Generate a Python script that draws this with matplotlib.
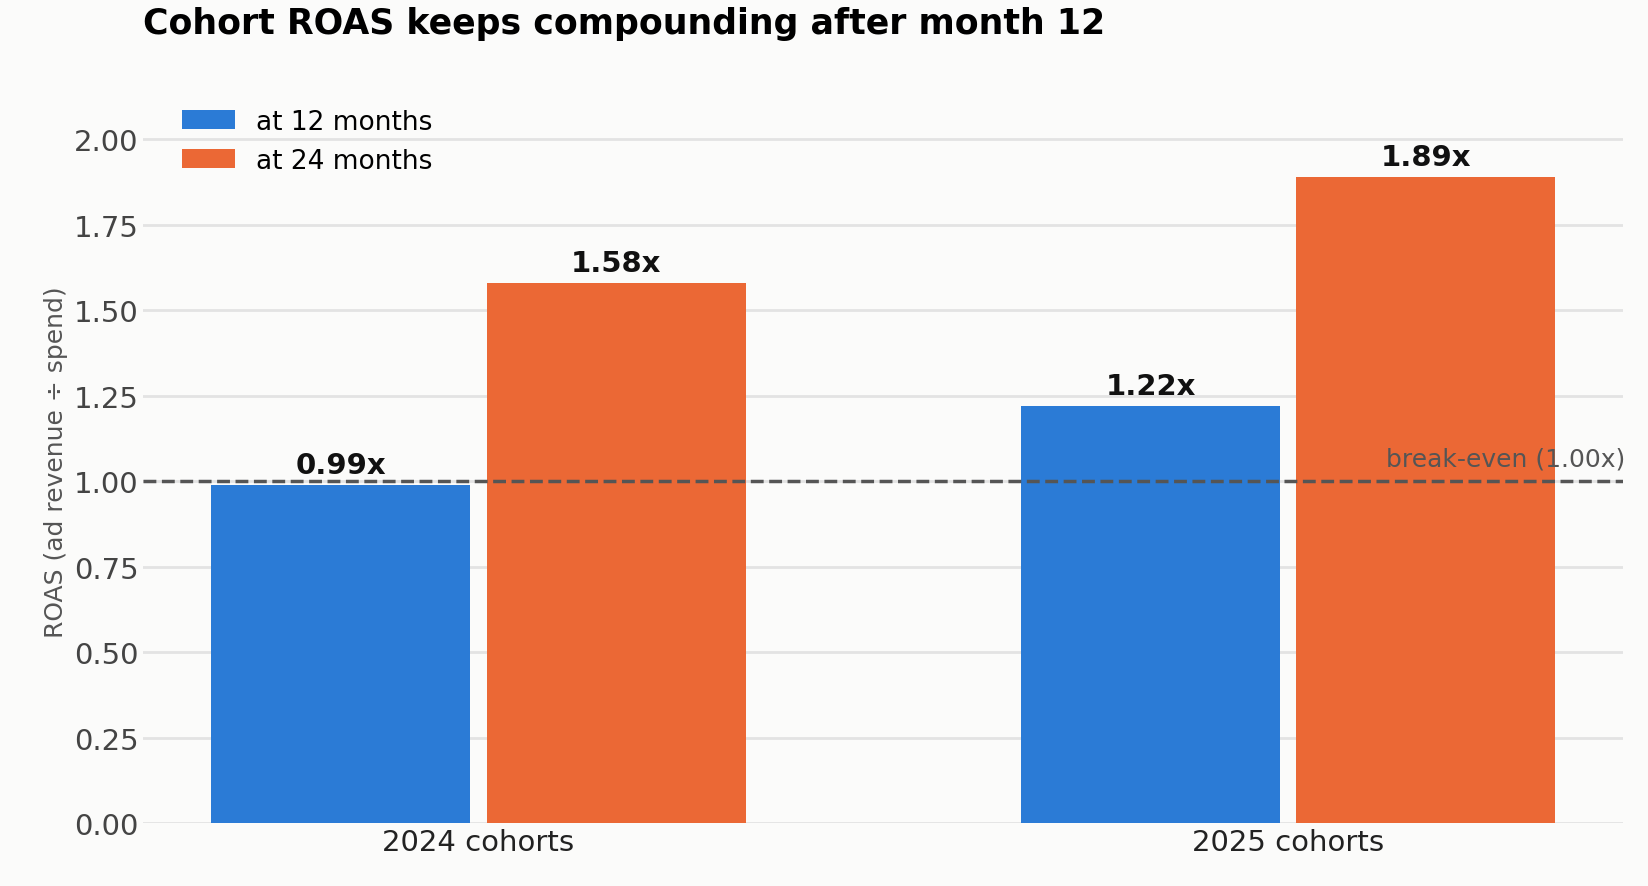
import matplotlib.pyplot as plt
import numpy as np

cohorts = ['2024 cohorts', '2025 cohorts']
roas_12 = [0.99, 1.22]
roas_24 = [1.58, 1.89]
breakeven = 1.00

bg = '#fbfbfa'
fig, ax = plt.subplots(figsize=(16.48, 8.87), dpi=100)
fig.patch.set_facecolor(bg)
ax.set_facecolor(bg)
fig.subplots_adjust(left=0.087, right=0.985, top=0.887, bottom=0.071)

x = np.arange(len(cohorts))
w = 0.32
b1 = ax.bar(x - 0.17, roas_12, w, color='#2b7bd6', label='at 12 months', zorder=3)
b2 = ax.bar(x + 0.17, roas_24, w, color='#eb6835', label='at 24 months', zorder=3)

for bars in (b1, b2):
    ax.bar_label(bars, labels=[f'{v:.2f}x' for v in bars.datavalues], padding=4,
                 fontsize=21, fontweight='bold', color='#111111')

ax.axhline(breakeven, color='#555555', linestyle='--', linewidth=2.5, zorder=4)
ax.text(1.416, breakeven + 0.03, 'break-even (1.00x)', ha='right', va='bottom',
        fontsize=18, color='#555555', zorder=5)

ax.set_xlim(-0.414, 1.414)
ax.set_ylim(0, 2.117)
ticks = np.arange(0, 2.01, 0.25)
ax.set_yticks(ticks)
ax.set_yticklabels([f'{t:.2f}' for t in ticks])
ax.set_xticks(x, labels=cohorts)
ax.tick_params(axis='both', length=0, labelsize=21)
ax.tick_params(axis='y', labelcolor='#444444')
ax.tick_params(axis='x', labelcolor='#222222')
ax.grid(axis='y', color='#e3e3e3', linewidth=2, zorder=0)
for s in ax.spines.values():
    s.set_visible(False)
ax.set_ylabel('ROAS (ad revenue ÷ spend)', fontsize=18, color='#555555')
ax.set_title('Cohort ROAS keeps compounding after month 12', loc='left',
             fontsize=25, fontweight='bold', pad=48)
ax.legend(loc='upper left', bbox_to_anchor=(0.01, 1.02), frameon=False, fontsize=19)

fig.savefig('out.png', facecolor=bg)
